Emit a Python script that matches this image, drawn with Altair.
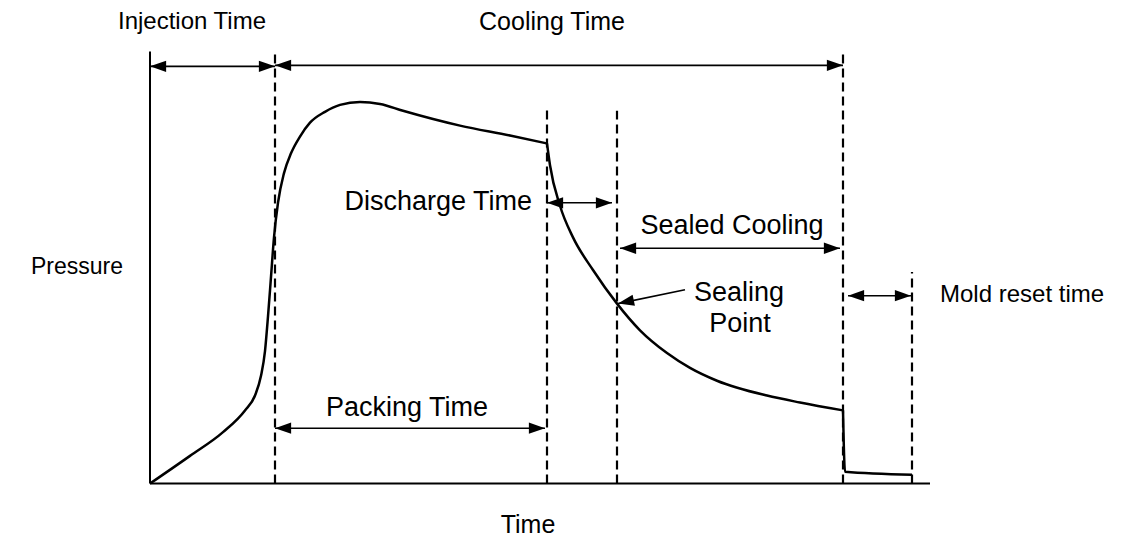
import altair as alt
import pandas as pd

# ---- data (time units / pressure units of the diagram) ----
curve_t = [0, 40, 73, 95, 105, 111, 115, 118, 121, 124, 128, 134, 141, 150, 160, 175, 190, 210, 230, 253, 310, 360, 397,
           397, 400, 410, 423, 443, 467, 490, 517, 540, 567, 617, 650, 693,
           693, 695, 762]
curve_p = [0, 28, 52, 74, 89, 109, 134, 169, 209, 249, 284, 314, 334, 351, 365, 376, 383, 386, 384, 377, 362, 352, 344,
           344, 322, 281, 249, 216, 182, 155, 132, 117, 104, 89, 82, 74,
           74, 12, 9]
curve_seg = [1] * 23 + [2] * 13 + [3] * 3

dash_t = [125, 397, 467, 693, 762]
dash_top = [436, 382, 377, 436, 214]

arrow_name = ["Injection", "Cooling", "Discharge", "Sealed", "Packing", "Mold"]
arrow_t1 = [0, 125, 397, 470, 125, 698]
arrow_t2 = [125, 693, 462, 690, 395, 761]
arrow_p = [422, 423, 284, 238, 56, 190]

seal_t = [535, 468]
seal_p = [196, 182]

label_text = ["Injection Time", "Cooling Time", "Pressure", "Time", "Sealed Cooling",
              "Sealing", "Point", "Packing Time", "Discharge Time", "Mold reset time"]
label_t = [42, 402, -73, 378, 582, 589, 590, 257, 382, 790]
label_p = [467, 467, 219, -42, 261, 193, 161, 76, 285, 191]
label_size = [24, 25, 23, 25, 27, 27, 27, 27, 27, 24]
label_align = ["center"] * 8 + ["right", "left"]

x_dom = [-142, 978]
y_dom = [-49, 481]

FONT = "Liberation Sans"

xs = alt.Scale(domain=x_dom, nice=False, zero=False)
ys = alt.Scale(domain=y_dom, nice=False, zero=False)


def X(f="t"):
    return alt.X(f, type="quantitative", scale=xs, axis=None)


def Y(f="p"):
    return alt.Y(f, type="quantitative", scale=ys, axis=None)


curve_df = pd.DataFrame({"t": curve_t, "p": curve_p, "seg": curve_seg})
dash_df = pd.DataFrame({"t": dash_t, "p0": [0] * len(dash_t), "p1": dash_top})
arrow_df = pd.DataFrame({"name": arrow_name, "t1": arrow_t1, "t2": arrow_t2, "p": arrow_p})
head_df = pd.DataFrame({
    "t": arrow_t1 + arrow_t2 + [seal_t[1]],
    "p": arrow_p + arrow_p + [seal_p[1]],
    "ang": [180] * len(arrow_t1) + [0] * len(arrow_t2) + [168],
})
axes_df = pd.DataFrame({"t1": [0, 0], "t2": [0, 780], "p1": [0, 0], "p2": [437, 0]})
label_df = pd.DataFrame({"text": label_text, "t": label_t, "p": label_p,
                         "fs": label_size, "al": label_align})

HEAD = "M 0 0 L -2 -0.7 L -2 0.7 Z"

axes_layer = alt.Chart(axes_df).mark_rule(color="black", strokeWidth=2).encode(
    x=X("t1"), x2="t2", y=Y("p1"), y2="p2")

dash_layer = alt.Chart(dash_df).mark_rule(color="black", strokeWidth=2.2, strokeDash=[9, 5]).encode(
    x=X("t"), y=Y("p0"), y2="p1")

curve_layer = alt.Chart(curve_df).mark_line(color="black", strokeWidth=2.5, interpolate="monotone").encode(
    x=X("t"), y=Y("p"), detail="seg:N", order="t:Q")

arrow_layer = alt.Chart(arrow_df).mark_rule(color="black", strokeWidth=1.6).encode(
    x=X("t1"), x2="t2", y=Y("p"))

head_layer = alt.Chart(head_df).mark_point(shape=HEAD, filled=True, color="black", size=260, opacity=1,
                                           strokeWidth=0).encode(
    x=X("t"), y=Y("p"), angle=alt.Angle("ang:Q", scale=None))

seal_df = pd.DataFrame({"t1": [seal_t[0]], "t2": [seal_t[1]], "p1": [seal_p[0]], "p2": [seal_p[1]]})
seal_line = alt.Chart(seal_df).mark_rule(color="black", strokeWidth=1.6).encode(
    x=X("t1"), x2="t2", y=Y("p1"), y2="p2")

text_layers = []
for al in ["center", "right", "left"]:
    text_layers.append(
        alt.Chart(label_df).transform_filter(alt.datum.al == al).mark_text(
            font=FONT, color="black", align=al, baseline="middle").encode(
            x=X("t"), y=Y("p"), text="text:N", size=alt.Size("fs:Q", scale=None))
    )

chart = alt.layer(
    axes_layer, dash_layer, curve_layer, arrow_layer, head_layer, seal_line, *text_layers
).properties(
    width=1120, height=530, padding=0,
    autosize=alt.AutoSizeParams(type="fit", contains="padding"),
).configure(background="white").configure_view(stroke=None)

chart.save("out.html", embed_options={"renderer": "svg", "actions": False})
